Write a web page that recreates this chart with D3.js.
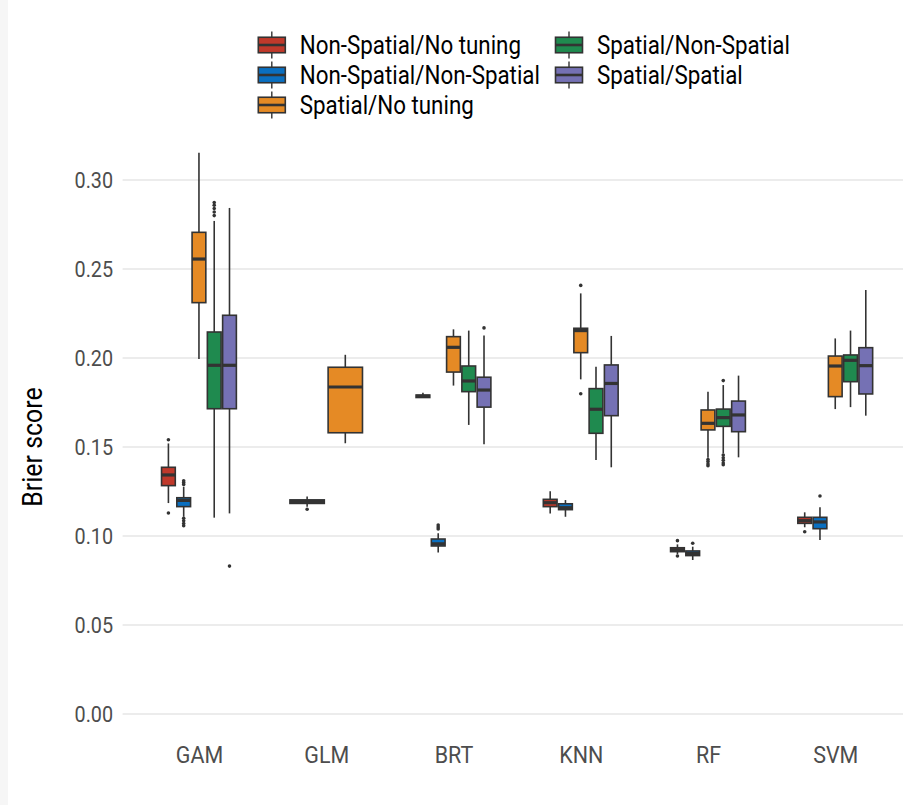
<!DOCTYPE html>
<html>
<head>
<meta charset="utf-8">
<script src="https://cdn.jsdelivr.net/npm/d3@7"></script>
<style>
  html, body { margin: 0; padding: 0; background: #fff; }
  svg text { font-family: Roboto, "Noto Sans", sans-serif; }
</style>
</head>
<body>
<svg id="chart" width="903" height="805"></svg>
<script>
// Model families on the x axis
const methods = ["GAM", "GLM", "BRT", "KNN", "RF", "SVM"];

// Resampling / tuning setups (fill groups)
const setups = [
  "Non-Spatial/No tuning",
  "Non-Spatial/Non-Spatial",
  "Spatial/No tuning",
  "Spatial/Non-Spatial",
  "Spatial/Spatial"
];
const setupColors = ["#c0392b", "#0a6fc0", "#e58a25", "#1f8a4f", "#7571b4"];

// Box statistics: method, setup index, lower whisker, Q1, median, Q3, upper whisker
const boxStats = [
  ["GAM", 0, 0.1185, 0.1283, 0.1343, 0.1386, 0.1520],
  ["GAM", 1, 0.1108, 0.1165, 0.1200, 0.1215, 0.1277],
  ["GAM", 2, 0.1994, 0.2311, 0.2556, 0.2706, 0.3153],
  ["GAM", 3, 0.1103, 0.1715, 0.1959, 0.2146, 0.2770],
  ["GAM", 4, 0.1127, 0.1715, 0.1959, 0.2240, 0.2843],
  ["GLM", 1, 0.1165, 0.1183, 0.1193, 0.1203, 0.1222],
  ["GLM", 2, 0.1521, 0.1580, 0.1837, 0.1948, 0.2018],
  ["BRT", 0, 0.1775, 0.1778, 0.1785, 0.1792, 0.1805],
  ["BRT", 1, 0.0908, 0.0944, 0.0956, 0.0983, 0.1015],
  ["BRT", 2, 0.1845, 0.1921, 0.2060, 0.2120, 0.2161],
  ["BRT", 3, 0.1624, 0.1811, 0.1871, 0.1955, 0.2154],
  ["BRT", 4, 0.1515, 0.1724, 0.1820, 0.1892, 0.2126],
  ["KNN", 0, 0.1127, 0.1165, 0.1187, 0.1206, 0.1251],
  ["KNN", 1, 0.1108, 0.1148, 0.1159, 0.1181, 0.1202],
  ["KNN", 2, 0.1880, 0.2030, 0.2154, 0.2167, 0.2363],
  ["KNN", 3, 0.1427, 0.1577, 0.1712, 0.1828, 0.1951],
  ["KNN", 4, 0.1386, 0.1676, 0.1857, 0.1961, 0.2124],
  ["RF", 0, 0.0897, 0.0912, 0.0923, 0.0934, 0.0953],
  ["RF", 1, 0.0865, 0.0890, 0.0901, 0.0916, 0.0940],
  ["RF", 2, 0.1440, 0.1596, 0.1633, 0.1708, 0.1811],
  ["RF", 3, 0.1464, 0.1616, 0.1665, 0.1713, 0.1848],
  ["RF", 4, 0.1442, 0.1586, 0.1680, 0.1758, 0.1901],
  ["SVM", 0, 0.1049, 0.1071, 0.1086, 0.1105, 0.1133],
  ["SVM", 1, 0.0978, 0.1041, 0.1079, 0.1105, 0.1161],
  ["SVM", 2, 0.1713, 0.1783, 0.1955, 0.2011, 0.2110],
  ["SVM", 3, 0.1724, 0.1867, 0.1987, 0.2017, 0.2154],
  ["SVM", 4, 0.1676, 0.1798, 0.1957, 0.2058, 0.2382]
];

// Points beyond the whiskers: method, setup index, values
const outliers = [
  ["GAM", 0, [0.1541, 0.1129]],
  ["GAM", 1, [0.1290, 0.1300, 0.1310, 0.1100, 0.1085, 0.1070, 0.1058]],
  ["GAM", 3, [0.2800, 0.2820, 0.2840, 0.2858, 0.2873]],
  ["GAM", 4, [0.0831]],
  ["GLM", 1, [0.1150]],
  ["BRT", 1, [0.1040, 0.1050, 0.1062]],
  ["BRT", 4, [0.2169]],
  ["KNN", 2, [0.2408, 0.1799]],
  ["RF", 0, [0.0974, 0.0888]],
  ["RF", 1, [0.0959]],
  ["RF", 2, [0.1430, 0.1418, 0.1405, 0.1395]],
  ["RF", 3, [0.1873, 0.1455, 0.1440, 0.1425, 0.1410, 0.1400]],
  ["SVM", 0, [0.1024]],
  ["SVM", 1, [0.1225]]
];

const yTicks = [0.00, 0.05, 0.10, 0.15, 0.20, 0.25, 0.30];

// Horizontal squeeze that gives Roboto a condensed look
const narrow = 0.88;

const svg = d3.select("#chart");
const W = 903, H = 805;

svg.append("rect").attr("width", W).attr("height", H).attr("fill", "#fff");
svg.append("rect").attr("width", 8).attr("height", H).attr("fill", "#f6f6f6");

const panelLeft = 122.6, panelRight = 911.6;
const x = d3.scalePoint().domain(methods).range([panelLeft, panelRight]).padding(0.6);
const y = d3.scaleLinear().domain([0, 0.30]).range([714, 180]);
const dodgeWidth = x.step() * 0.6;

function condense(sel) {
  sel.each(function () {
    const t = d3.select(this);
    const tx = +t.attr("x") || 0;
    t.attr("x", 0).attr("transform", `translate(${tx},0) scale(${narrow},1)`);
  });
}

// Horizontal grid
svg.append("g").selectAll("line").data(yTicks).join("line")
  .attr("x1", panelLeft).attr("x2", W)
  .attr("y1", d => y(d)).attr("y2", d => y(d))
  .attr("stroke", "#d9d9d9").attr("stroke-width", 1);

// Y axis labels
const yAxis = d3.axisLeft(y).tickValues(yTicks).tickFormat(d3.format(".2f")).tickSize(0).tickPadding(9.5);
const gy = svg.append("g").attr("transform", `translate(${panelLeft},0)`).call(yAxis);
gy.select(".domain").remove();
gy.selectAll("text").attr("fill", "#4d4d4d").style("font-size", "22.5px").call(condense);

// X axis labels
const xAxis = d3.axisBottom(x).tickSize(0).tickPadding(0);
const gx = svg.append("g").attr("transform", `translate(0,746)`).call(xAxis);
gx.select(".domain").remove();
gx.selectAll("text").attr("fill", "#4d4d4d").style("font-size", "24.4px").call(condense);

// Y axis title
svg.append("text")
  .attr("transform", `translate(42,447) rotate(-90) scale(${narrow},1)`)
  .attr("text-anchor", "middle")
  .attr("fill", "#000")
  .style("font-size", "28.3px")
  .text("Brier score");

// Dodge positions: boxes share the slot among the setups present in each method
function slotOf(method, setup) {
  const present = boxStats.filter(r => r[0] === method).map(r => r[1]).sort((a, b) => a - b);
  const n = present.length;
  const k = present.indexOf(setup);
  const w = dodgeWidth / n;
  return { cx: x(method) - dodgeWidth / 2 + w * (k + 0.5), w: w * 0.9 };
}

const ink = "#333333";
const boxes = svg.append("g");
boxStats.forEach(r => {
  const [m, s, lo, q1, med, q3, hi] = r;
  const { cx, w } = slotOf(m, s);
  const g = boxes.append("g");
  g.append("line").attr("x1", cx).attr("x2", cx).attr("y1", y(hi)).attr("y2", y(q3))
    .attr("stroke", ink).attr("stroke-width", 1.6);
  g.append("line").attr("x1", cx).attr("x2", cx).attr("y1", y(q1)).attr("y2", y(lo))
    .attr("stroke", ink).attr("stroke-width", 1.6);
  g.append("rect").attr("x", cx - w / 2).attr("width", w)
    .attr("y", y(q3)).attr("height", Math.max(0.01, y(q1) - y(q3)))
    .attr("fill", setupColors[s]).attr("stroke", ink).attr("stroke-width", 1.6);
  g.append("line").attr("x1", cx - w / 2).attr("x2", cx + w / 2).attr("y1", y(med)).attr("y2", y(med))
    .attr("stroke", ink).attr("stroke-width", 3.2);
});

const pts = svg.append("g");
outliers.forEach(([m, s, vals]) => {
  const { cx } = slotOf(m, s);
  vals.forEach(v => {
    pts.append("circle").attr("cx", cx).attr("cy", y(v)).attr("r", 1.8).attr("fill", ink);
  });
});

// Legend: two columns, filled column-wise
const legend = svg.append("g");
const colX = [258.3, 555.5];
const rowY = [45, 75, 105];
setups.forEach((name, i) => {
  const col = i < 3 ? 0 : 1;
  const row = i < 3 ? i : i - 3;
  const gx0 = colX[col], gy0 = rowY[row];
  const kw = 27, kh = 15.5;
  const g = legend.append("g").attr("transform", `translate(${gx0},${gy0})`);
  g.append("line").attr("x1", kw / 2).attr("x2", kw / 2).attr("y1", -13.5).attr("y2", 13.5)
    .attr("stroke", ink).attr("stroke-width", 1.4);
  g.append("rect").attr("x", 0).attr("y", -kh / 2).attr("width", kw).attr("height", kh)
    .attr("fill", setupColors[i]).attr("stroke", ink).attr("stroke-width", 1.6);
  g.append("line").attr("x1", 0).attr("x2", kw).attr("y1", 0).attr("y2", 0)
    .attr("stroke", ink).attr("stroke-width", 2.6);
  g.append("text")
    .attr("transform", `translate(41.5,0) scale(${narrow},1)`)
    .attr("dy", "0.36em")
    .attr("fill", "#000").style("font-size", "25.4px").text(name);
});
</script>
</body>
</html>
